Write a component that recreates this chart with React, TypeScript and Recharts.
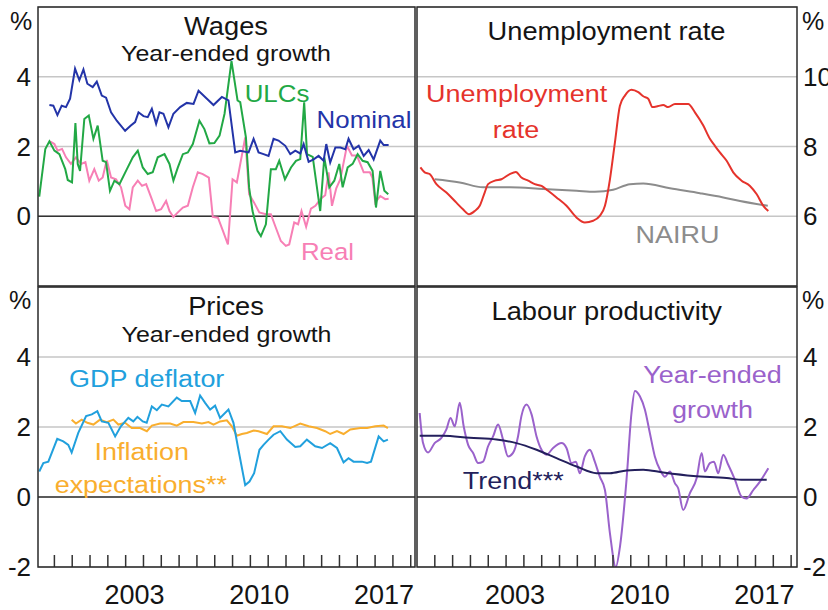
import React from "react";
import {
	LineChart,
	Line,
	XAxis,
	YAxis,
	CartesianGrid,
	ReferenceLine,
} from "recharts";

type Pt = [number, number];

// Wages, year-ended growth (%)
const nominalWages: Pt[] = [
	[1998.72, 3.19], [1998.94, 3.17], [1999.17, 2.9], [1999.41, 3.17], [1999.65, 3.13],
	[1999.88, 3.37], [2000.16, 4.23], [2000.4, 3.9], [2000.63, 4.21], [2000.85, 3.8],
	[2001.15, 3.7], [2001.38, 3.86], [2001.66, 3.46], [2001.9, 3.4], [2002.18, 2.98],
	[2002.5, 2.74], [2002.97, 2.45], [2003.29, 2.6], [2003.53, 2.7], [2003.72, 2.98],
	[2004.0, 2.87], [2004.24, 2.84], [2004.47, 3.08], [2004.71, 2.65], [2004.9, 2.98],
	[2005.12, 2.94], [2005.4, 2.55], [2005.68, 2.94], [2006.06, 3.13], [2006.43, 3.25],
	[2006.81, 3.22], [2007.09, 3.6], [2007.56, 3.37], [2007.93, 3.19], [2008.4, 3.42],
	[2008.77, 3.32], [2009.15, 1.83], [2009.43, 1.88], [2009.9, 1.83], [2010.18, 2.22],
	[2010.46, 1.83], [2010.74, 1.78], [2011.02, 1.73], [2011.3, 2.22], [2011.58, 2.17],
	[2011.96, 2.02], [2012.24, 1.78], [2012.52, 1.88], [2012.8, 1.8], [2012.99, 2.07],
	[2013.27, 1.56], [2013.55, 1.63], [2013.83, 1.73], [2014.11, 1.59], [2014.26, 2.07],
	[2014.48, 1.54], [2014.77, 1.97], [2015.05, 1.97], [2015.33, 1.92], [2015.51, 2.22],
	[2015.79, 1.92], [2016.08, 2.02], [2016.36, 1.73], [2016.64, 1.9], [2016.92, 1.63],
	[2017.29, 2.17], [2017.48, 2.04], [2017.76, 2.04],
];

const ulcs: Pt[] = [
	[1998.15, 0.56], [1998.49, 1.93], [1998.72, 2.15], [1999.0, 1.88], [1999.28, 1.78],
	[1999.61, 1.35], [1999.75, 1.04], [1999.99, 0.97], [2000.18, 2.67], [2000.31, 1.5],
	[2000.44, 1.3], [2000.68, 2.79], [2000.93, 2.89], [2001.19, 2.22], [2001.43, 2.6],
	[2001.71, 1.59], [2001.9, 1.55], [2002.12, 0.73], [2002.37, 1.02], [2002.65, 0.92],
	[2003.02, 1.3], [2003.4, 1.69], [2003.68, 1.88], [2003.96, 1.4], [2004.24, 1.21],
	[2004.52, 1.26], [2004.8, 1.69], [2005.18, 1.78], [2005.46, 1.5], [2005.68, 1.02],
	[2005.93, 1.4], [2006.21, 1.78], [2006.49, 1.83], [2006.77, 2.07], [2007.14, 2.74],
	[2007.42, 2.5], [2007.7, 2.09], [2007.98, 2.1], [2008.27, 2.31], [2008.55, 2.94],
	[2008.94, 4.45], [2009.28, 3.32], [2009.43, 3.27], [2009.75, 2.26], [2009.93, 0.82],
	[2010.12, 0.15], [2010.4, -0.42], [2010.59, -0.57], [2010.87, -0.23], [2011.15, 1.35],
	[2011.43, 1.35], [2011.62, 1.59], [2011.94, 1.06], [2012.28, 1.4], [2012.56, 1.59],
	[2012.8, 1.64], [2013.02, 3.27], [2013.18, 1.78], [2013.5, 1.7], [2013.92, 0.15],
	[2014.15, 1.69], [2014.43, 0.83], [2014.71, 1.02], [2014.99, 1.5], [2015.18, 0.83],
	[2015.46, 1.4], [2015.74, 1.5], [2016.02, 1.78], [2016.3, 1.59], [2016.58, 1.55],
	[2016.86, 1.3], [2017.05, 0.25], [2017.29, 1.3], [2017.52, 0.73], [2017.74, 0.63],
];

const realWages: Pt[] = [
	[1998.75, 2.15], [1999.0, 2.07], [1999.18, 1.88], [1999.43, 1.93], [1999.65, 1.69],
	[1999.93, 1.5], [2000.21, 1.69], [2000.5, 1.5], [2000.74, 1.55], [2000.96, 1.02],
	[2001.24, 1.35], [2001.49, 1.02], [2001.71, 1.11], [2001.94, 1.61], [2002.18, 1.11],
	[2002.46, 1.06], [2002.74, 0.83], [2002.98, 0.3], [2003.21, 0.2], [2003.4, 0.83],
	[2003.68, 1.02], [2003.92, 0.87], [2004.15, 0.92], [2004.43, 0.54], [2004.71, 0.15],
	[2004.99, 0.2], [2005.27, 0.44], [2005.46, 0.15], [2005.68, -0.02], [2005.93, 0.11],
	[2006.21, 0.25], [2006.49, 0.3], [2006.77, 0.83], [2007.05, 1.26], [2007.33, 1.21],
	[2007.67, 1.11], [2007.89, -0.02], [2008.18, -0.04], [2008.46, -0.42], [2008.74, -0.81],
	[2009.0, 1.06], [2009.24, 0.97], [2009.52, 1.74], [2009.71, 2.26], [2009.93, 0.63],
	[2010.21, 0.39], [2010.5, 0.11], [2010.87, 0.06], [2011.15, 0.06], [2011.43, -0.33],
	[2011.71, -0.71], [2011.99, -0.85], [2012.18, -0.81], [2012.46, -0.18], [2012.68, -0.23],
	[2012.87, 0.15], [2013.13, -0.3], [2013.4, 0.22], [2013.65, 0.3], [2013.95, 0.5],
	[2014.2, 0.6], [2014.39, 1.26], [2014.58, 0.3], [2014.82, 0.8], [2015.05, 1.06],
	[2015.42, 2.02], [2015.7, 1.74], [2015.98, 1.74], [2016.17, 1.5], [2016.36, 1.26],
	[2016.71, 1.26], [2016.85, 1.1], [2017.01, 0.39], [2017.29, 0.58], [2017.57, 0.49],
	[2017.76, 0.5],
];

// Unemployment rate and NAIRU (%)
const unemployment: Pt[] = [
	[1998.19, 7.4], [1998.43, 7.26], [1998.71, 7.21], [1999.09, 6.92], [1999.65, 6.68],
	[2000.21, 6.39], [2000.58, 6.2], [2000.92, 6.06], [2001.24, 6.15], [2001.52, 6.3],
	[2001.8, 6.68], [2001.99, 6.92], [2002.37, 7.02], [2002.74, 7.06], [2003.21, 7.21],
	[2003.55, 7.27], [2003.86, 7.11], [2004.24, 7.02], [2004.61, 6.92], [2004.99, 6.87],
	[2005.36, 6.73], [2005.83, 6.54], [2006.39, 6.3], [2006.96, 5.96], [2007.42, 5.82],
	[2007.89, 5.87], [2008.26, 6.01], [2008.55, 6.3], [2008.83, 7.06], [2009.11, 8.12],
	[2009.39, 9.17], [2009.67, 9.46], [2010.04, 9.63], [2010.42, 9.56], [2010.7, 9.44],
	[2010.98, 9.37], [2011.22, 9.13], [2011.54, 9.16], [2011.82, 9.19], [2012.1, 9.13],
	[2012.48, 9.22], [2012.85, 9.22], [2013.22, 9.22], [2013.6, 8.98], [2014.07, 8.6],
	[2014.44, 8.22], [2014.72, 8.02], [2015.0, 7.83], [2015.38, 7.59], [2015.75, 7.26],
	[2016.22, 7.02], [2016.69, 6.87], [2017.07, 6.63], [2017.44, 6.3], [2017.72, 6.15],
];

const nairu: Pt[] = [
	[1998.99, 7.06], [2000.4, 6.97], [2001.71, 6.83], [2003.21, 6.83], [2005.08, 6.78],
	[2006.96, 6.73], [2007.98, 6.7], [2009.01, 6.76], [2009.95, 6.92], [2010.7, 6.94],
	[2012.2, 6.8], [2013.88, 6.66], [2015.19, 6.54], [2016.13, 6.44], [2017.69, 6.3],
];

// Prices, year-ended growth (%)
const gdpDeflator: Pt[] = [
	[1998.15, 0.73], [1998.38, 0.97], [1998.66, 1.01], [1999.16, 1.66], [1999.5, 1.59],
	[1999.78, 1.49], [1999.97, 1.27], [2000.34, 1.83], [2000.78, 2.31], [2001.1, 2.36],
	[2001.41, 2.45], [2001.66, 2.16], [2002.03, 2.12], [2002.41, 1.73], [2002.73, 2.02],
	[2003.15, 2.26], [2003.43, 2.16], [2003.66, 2.29], [2003.96, 2.16], [2004.18, 2.12],
	[2004.47, 2.59], [2004.75, 2.48], [2005.03, 2.64], [2005.4, 2.59], [2005.87, 2.84],
	[2006.15, 2.74], [2006.62, 2.74], [2006.9, 2.4], [2007.18, 2.9], [2007.46, 2.69],
	[2007.74, 2.5], [2008.02, 2.61], [2008.3, 2.26], [2008.77, 2.5], [2009.05, 2.12],
	[2009.33, 1.35], [2009.71, 0.34], [2009.95, 0.44], [2010.21, 0.68], [2010.51, 1.35],
	[2010.74, 1.49], [2011.02, 1.64], [2011.3, 1.78], [2011.68, 1.88], [2012.05, 1.64],
	[2012.52, 1.43], [2012.8, 1.45], [2013.17, 1.64], [2013.64, 1.45], [2014.02, 1.4],
	[2014.48, 1.54], [2014.86, 1.4], [2015.23, 0.99], [2015.51, 1.11], [2015.79, 1.01],
	[2016.26, 1.01], [2016.55, 0.97], [2016.77, 1.01], [2017.2, 1.73], [2017.48, 1.59],
	[2017.72, 1.64],
];

const inflationExpectations: Pt[] = [
	[1999.97, 2.21], [2000.21, 2.1], [2000.53, 2.21], [2000.85, 2.12], [2001.19, 2.07],
	[2001.56, 2.21], [2001.94, 2.14], [2002.31, 2.21], [2002.59, 2.07], [2002.97, 2.12],
	[2003.34, 1.97], [2003.81, 1.97], [2004.19, 1.88], [2004.47, 2.04], [2004.93, 2.1],
	[2005.5, 2.1], [2005.87, 2.04], [2006.24, 2.14], [2006.8, 2.14], [2007.28, 2.1],
	[2007.65, 2.14], [2007.93, 2.07], [2008.3, 2.16], [2008.68, 2.19], [2008.96, 2.02],
	[2009.24, 1.75], [2009.52, 1.8], [2009.8, 1.83], [2010.18, 1.9], [2010.46, 1.88],
	[2010.93, 1.8], [2011.3, 2.02], [2011.77, 2.02], [2012.24, 1.97], [2012.8, 2.1],
	[2013.27, 2.02], [2013.74, 1.97], [2014.2, 1.88], [2014.48, 1.8], [2014.86, 1.88],
	[2015.23, 1.8], [2015.61, 1.93], [2016.17, 1.97], [2016.55, 1.97], [2017.01, 2.02],
	[2017.48, 2.04], [2017.72, 1.97],
];

// Labour productivity (%)
const productivity: Pt[] = [
	[1998.15, 2.4], [1998.34, 1.54], [1998.62, 1.27], [1998.99, 1.54], [1999.37, 1.69],
	[1999.65, 1.93], [1999.88, 2.26], [2000.12, 2.02], [2000.4, 2.69], [2000.62, 2.02],
	[2000.87, 1.49], [2001.15, 1.26], [2001.43, 0.97], [2001.71, 1.01], [2001.99, 1.45],
	[2002.27, 1.73], [2002.55, 2.07], [2002.83, 1.64], [2003.11, 1.16], [2003.39, 1.26],
	[2003.67, 1.73], [2003.86, 2.31], [2004.15, 2.64], [2004.43, 2.36], [2004.71, 1.73],
	[2004.99, 1.35], [2005.27, 1.21], [2005.64, 1.4], [2006.11, 1.54], [2006.39, 1.4],
	[2006.67, 0.97], [2006.92, 1.01], [2007.14, 0.68], [2007.42, 1.16], [2007.7, 1.35],
	[2007.98, 1.01], [2008.26, 0.58], [2008.55, 0.2], [2008.83, -1.04], [2009.16, -2.0],
	[2009.39, -1.43], [2009.76, 0.49], [2010.04, 2.4], [2010.23, 3.03], [2010.51, 2.88],
	[2010.79, 2.5], [2011.07, 1.83], [2011.35, 1.16], [2011.64, 0.78], [2011.92, 0.58],
	[2012.2, 0.73], [2012.48, 0.39], [2012.66, 0.25], [2012.94, -0.37], [2013.32, 0.11],
	[2013.7, 0.54], [2013.98, 1.26], [2014.16, 0.73], [2014.44, 0.97], [2014.67, 1.01],
	[2014.91, 0.68], [2015.19, 1.21], [2015.47, 0.92], [2015.85, 0.49], [2016.22, 0.01],
	[2016.5, -0.04], [2016.88, 0.2], [2017.25, 0.44], [2017.72, 0.82],
];

const productivityTrend: Pt[] = [
	[1998.15, 1.75], [1999.46, 1.75], [2000.96, 1.69], [2002.46, 1.64], [2003.58, 1.54],
	[2004.71, 1.35], [2005.83, 1.11], [2006.96, 0.87], [2008.08, 0.68], [2008.83, 0.68],
	[2009.76, 0.76], [2010.7, 0.78], [2011.82, 0.7], [2013.51, 0.6], [2015.38, 0.54],
	[2016.31, 0.49], [2017.63, 0.49],
];

// year starts get a tick mark, mid-years carry the labels
const yearStarts = [
	1999, 2000, 2001, 2002, 2003, 2004, 2005, 2006, 2007, 2008, 2009, 2010,
	2011, 2012, 2013, 2014, 2015, 2016, 2017, 2018, 2019,
];
const yearLabels = [2003.5, 2010.5, 2017.5];
const timeTicks = [...yearStarts, ...yearLabels].sort((a, b) => a - b);
const pctTicks = [-2, 0, 2, 4];
const wageTicks = [0, 2, 4];
const unempTicks = [6, 8, 10];

const FONT = "'Liberation Sans', Arial, Helvetica, sans-serif";
const INK = "#141414";

// tick size 6 + margin 12 sit between the axis line and y
const YearTick = (props: any) => {
	const { x, y, payload } = props;
	const v = payload.value as number;
	if (Number.isInteger(v)) {
		return (
			<line
				x1={x}
				x2={x}
				y1={y - 18}
				y2={y - 30}
				stroke="#333"
				strokeWidth={1.5}
			/>
		);
	}
	return (
		<text
			x={x}
			y={y}
			dy="0.71em"
			textAnchor="middle"
			fontSize={27}
			fill={INK}
			fontFamily={FONT}
		>
			{Math.floor(v)}
		</text>
	);
};

type Series = {
	points: Pt[];
	color: string;
	curve?: "linear" | "monotone";
};

type PanelProps = {
	left: number;
	top: number;
	width: number;
	height: number;
	side: "left" | "right";
	xDomain: [number, number];
	yDomain: [number, number];
	yTicks: number[];
	series: Series[];
	years?: boolean;
	zero?: boolean;
};

const Panel: React.FC<PanelProps> = ({
	left,
	top,
	width,
	height,
	side,
	xDomain,
	yDomain,
	yTicks,
	series,
	years,
	zero,
}) => {
	return (
		<div style={{ position: "absolute", left, top }}>
			<LineChart
				width={width}
				height={height}
				margin={{
					top: 7,
					right: side === "left" ? 1 : 0,
					bottom: years ? 0 : 1,
					left: 0,
				}}
			>
				<CartesianGrid
					vertical={false}
					stroke="#c6c6c6"
					strokeWidth={1.5}
				/>
				<XAxis
					xAxisId="t"
					dataKey="t"
					type="number"
					domain={xDomain}
					allowDataOverflow
					hide={!years}
					height={years ? 43 : 0}
					ticks={timeTicks}
					interval={0}
					tickLine={false}
					axisLine={false}
					tickSize={6}
					tickMargin={12}
					tick={<YearTick />}
				/>
				<YAxis
					orientation={side}
					width={side === "left" ? 38 : 31}
					domain={yDomain}
					ticks={yTicks}
					interval={0}
					allowDataOverflow
					tickLine={false}
					axisLine={false}
					tickMargin={side === "left" ? 1 : 0}
					tick={{ fontSize: 26, fill: INK, fontFamily: FONT }}
				/>
				{zero && (
					<ReferenceLine
						xAxisId="t"
						y={0}
						stroke="#333"
						strokeWidth={1.5}
					/>
				)}
				{series.map((s, i) => (
					<Line
						key={i}
						xAxisId="t"
						data={s.points.map(([t, v]) => ({ t, v }))}
						dataKey="v"
						type={s.curve ?? "linear"}
						stroke={s.color}
						strokeWidth={2}
						dot={false}
						activeDot={false}
						isAnimationActive={false}
					/>
				))}
			</LineChart>
		</div>
	);
};

const Txt: React.FC<{
	x: number;
	y: number;
	size: number;
	color?: string;
	sx?: number;
	children: React.ReactNode;
}> = ({ x, y, size, color = INK, sx = 1.1, children }) => (
	<text
		transform={`translate(${x} ${y}) scale(${sx} 1)`}
		textAnchor="middle"
		fontSize={size}
		fill={color}
		fontFamily={FONT}
	>
		{children}
	</text>
);

const C = {
	nominal: "#2334a8",
	ulcs: "#22a845",
	real: "#f77fb5",
	unemp: "#e5332c",
	nairu: "#8c8c8c",
	gdp: "#21a0dd",
	infl: "#f9ae2e",
	prod: "#9a62cb",
	trend: "#231f5c",
};

const leftX: [number, number] = [1998.08, 2019.24];
const rightX: [number, number] = [1998.0, 2019.33];

export default function App() {
	return (
		<div
			style={{
				position: "absolute",
				left: 0,
				top: 0,
				width: 828,
				height: 610,
				background: "#fff",
				overflow: "hidden",
			}}
		>
			<Panel
				left={0}
				top={0}
				width={416}
				height={287}
				side="left"
				xDomain={leftX}
				yDomain={[-2, 6]}
				yTicks={wageTicks}
				zero
				series={[
					{ points: realWages, color: C.real },
					{ points: ulcs, color: C.ulcs },
					{ points: nominalWages, color: C.nominal },
				]}
			/>
			<Panel
				left={417}
				top={0}
				width={411}
				height={287}
				side="right"
				xDomain={rightX}
				yDomain={[4, 12]}
				yTicks={unempTicks}
				series={[
					{ points: nairu, color: C.nairu, curve: "monotone" },
					{ points: unemployment, color: C.unemp, curve: "monotone" },
				]}
			/>
			<Panel
				left={0}
				top={280}
				width={416}
				height={330}
				side="left"
				xDomain={leftX}
				yDomain={[-2, 6]}
				yTicks={pctTicks}
				zero
				years
				series={[
					{ points: inflationExpectations, color: C.infl },
					{ points: gdpDeflator, color: C.gdp },
				]}
			/>
			<Panel
				left={417}
				top={280}
				width={411}
				height={330}
				side="right"
				xDomain={rightX}
				yDomain={[-2, 6]}
				yTicks={pctTicks}
				zero
				years
				series={[
					{ points: productivity, color: C.prod, curve: "monotone" },
					{ points: productivityTrend, color: C.trend, curve: "monotone" },
				]}
			/>
			<svg
				width={828}
				height={610}
				style={{ position: "absolute", left: 0, top: 0, pointerEvents: "none" }}
			>
				<g fill="none" stroke="#2a2a2a" strokeWidth={1.5}>
					<rect x={38} y={7} width={377} height={279} />
					<rect x={417} y={7} width={380} height={279} />
					<rect x={38} y={287} width={377} height={280} />
					<rect x={417} y={287} width={380} height={280} />
				</g>

				<Txt x={21} y={30} size={25} sx={1}>%</Txt>
				<Txt x={813} y={30} size={25} sx={1}>%</Txt>
				<Txt x={20} y={309} size={25} sx={1}>%</Txt>
				<Txt x={813} y={309} size={25} sx={1}>%</Txt>

				<Txt x={226} y={35} size={25.5} sx={1.07}>Wages</Txt>
				<Txt x={226} y={61} size={22.5} sx={1.11}>Year-ended growth</Txt>
				<Txt x={606.5} y={39.5} size={25.5} sx={1.07}>Unemployment rate</Txt>
				<Txt x={226} y={315} size={25.5} sx={1.07}>Prices</Txt>
				<Txt x={226.5} y={341.5} size={22.5} sx={1.11}>Year-ended growth</Txt>
				<Txt x={606.7} y={320} size={25.5} sx={1.07}>Labour productivity</Txt>

				<Txt x={277} y={101.7} size={23.5} color={C.ulcs}>ULCs</Txt>
				<Txt x={364} y={128} size={23.5} color={C.nominal}>Nominal</Txt>
				<Txt x={327.5} y={260} size={23.5} color={C.real}>Real</Txt>
				<Txt x={516.7} y={101.7} size={24.5} color={C.unemp}>Unemployment</Txt>
				<Txt x={516} y={138.3} size={24.5} color={C.unemp}>rate</Txt>
				<Txt x={677.5} y={243.3} size={24.5} color={C.nairu}>NAIRU</Txt>
				<Txt x={146.7} y={387.3} size={24.5} color={C.gdp}>GDP deflator</Txt>
				<Txt x={141.7} y={460} size={24.5} color={C.infl}>Inflation</Txt>
				<Txt x={140.8} y={493.3} size={24.5} color={C.infl}>expectations**</Txt>
				<Txt x={712.5} y={383.3} size={24.5} color={C.prod}>Year-ended</Txt>
				<Txt x={712.5} y={418.3} size={24.5} color={C.prod}>growth</Txt>
				<Txt x={513.3} y={489.3} size={24.5} color={C.trend}>Trend***</Txt>
			</svg>
		</div>
	);
}
